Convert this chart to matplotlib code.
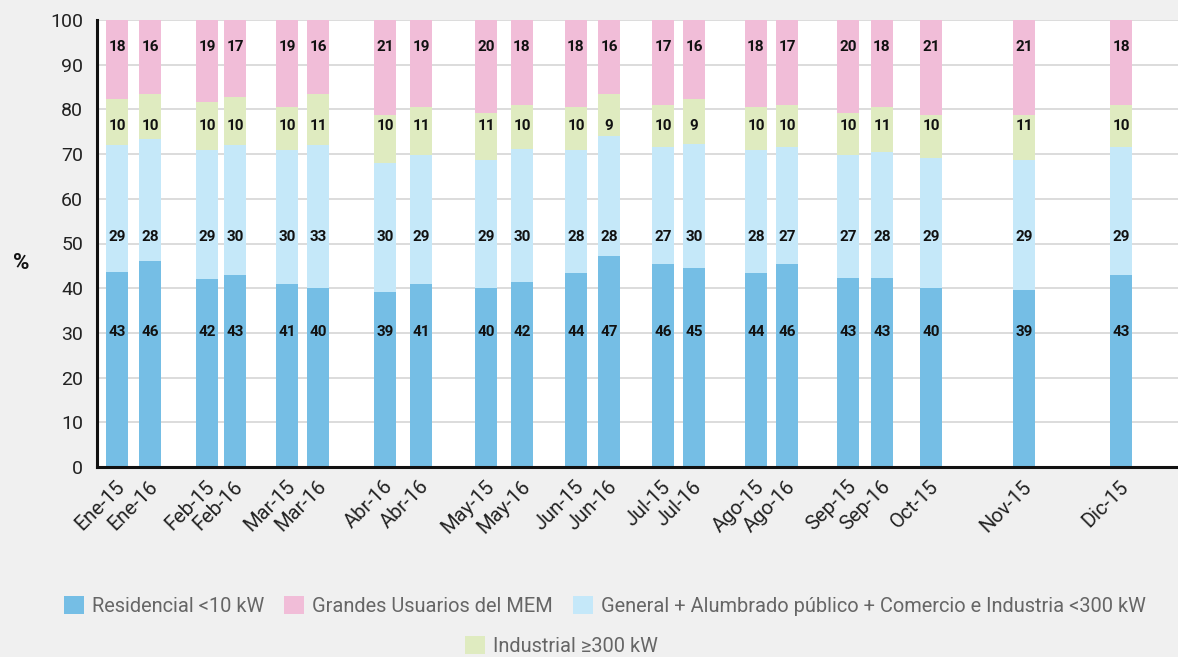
import matplotlib
matplotlib.use("Agg")
import matplotlib.pyplot as plt
from matplotlib.patches import Patch
from matplotlib.transforms import ScaledTranslation

categories = ["Ene-15", "Ene-16", "Feb-15", "Feb-16", "Mar-15", "Mar-16", "Abr-16", "Abr-16",
              "May-15", "May-16", "Jun-15", "Jun-16", "Jul-15", "Jul-16", "Ago-15", "Ago-16",
              "Sep-15", "Sep-16", "Oct-15", "Nov-15", "Dic-15"]

# bar segment heights (as drawn)
residencial = [43.6, 46.0, 42.0, 42.9, 40.9, 40.0, 39.1, 40.9, 40.0, 41.3, 43.4, 47.2, 45.4, 44.5,
               43.4, 45.4, 42.2, 42.2, 40.0, 39.6, 42.9]
general = [28.4, 27.4, 28.9, 29.1, 30.0, 32.0, 28.9, 28.9, 28.7, 29.8, 27.6, 26.9, 26.2, 27.8,
           27.6, 26.2, 27.6, 28.3, 29.2, 29.1, 28.7]
industrial = [10.3, 10.0, 10.7, 10.8, 9.6, 11.4, 10.7, 10.7, 10.5, 9.9, 9.5, 9.3, 9.4, 10.0,
              9.5, 9.4, 9.4, 10.0, 9.5, 10.0, 9.4]
grandes = [17.7, 16.6, 18.4, 17.2, 19.5, 16.6, 21.3, 19.5, 20.8, 19.0, 19.5, 16.6, 19.0, 17.7,
           19.5, 19.0, 20.8, 19.5, 21.3, 21.3, 19.0]

# printed labels
lbl_residencial = [43, 46, 42, 43, 41, 40, 39, 41, 40, 42, 44, 47, 46, 45, 44, 46, 43, 43, 40, 39, 43]
lbl_general = [29, 28, 29, 30, 30, 33, 30, 29, 29, 30, 28, 28, 27, 30, 28, 27, 27, 28, 29, 29, 29]
lbl_industrial = [10, 10, 10, 10, 10, 11, 10, 11, 11, 10, 10, 9, 10, 9, 10, 10, 10, 11, 10, 11, 10]
lbl_grandes = [18, 16, 19, 17, 19, 16, 21, 19, 20, 18, 18, 16, 17, 16, 18, 17, 20, 18, 21, 21, 18]

series_names = ["Residencial <10 kW", "Grandes Usuarios del MEM",
                "General + Alumbrado público + Comercio e Industria <300 kW",
                "Industrial \u2265300 kW"]

yticks = list(range(0, 101, 10))

# layout: bar centre positions along the axis (irregular spacing as in the original)
x_pos = [117, 150, 207, 235, 287, 318, 385, 421, 486, 522, 576, 609, 663, 694, 756, 787,
         848, 882, 931, 1024, 1121]

c_res = "#75BEE5"
c_gen = "#C5E8F9"
c_ind = "#DFEBC0"
c_gra = "#F1BDD8"

plt.rcParams["font.family"] = ["Roboto", "DejaVu Sans"]

fig = plt.figure(figsize=(11.78, 6.57), dpi=100, facecolor="#F0F0F0")
ax = fig.add_axes([97 / 1178, 1 - 467 / 657, 1 - 97 / 1178, (467 - 20) / 657])
ax.set_facecolor("white")

w = 22
b1 = residencial
b2 = [a + b for a, b in zip(residencial, general)]
b3 = [a + b for a, b in zip(b2, industrial)]
ax.bar(x_pos, residencial, width=w, color=c_res, zorder=2)
ax.bar(x_pos, general, width=w, bottom=b1, color=c_gen, zorder=2)
ax.bar(x_pos, industrial, width=w, bottom=b2, color=c_ind, zorder=2)
ax.bar(x_pos, grandes, width=w, bottom=b3, color=c_gra, zorder=2)

for i, x in enumerate(x_pos):
    for yv, lab in ((30.2, lbl_residencial[i]), (51.4, lbl_general[i]),
                    (76.3, lbl_industrial[i]), (94.0, lbl_grandes[i])):
        ax.text(x, yv, str(lab), ha="center", va="center", fontsize=11,
                fontweight="bold", color="#111111", zorder=3)

ax.set_xlim(97, 1178)
ax.set_ylim(0, 100)
ax.set_yticks(yticks)
ax.set_yticklabels([str(t) for t in yticks], fontsize=14, color="#222222")
ax.tick_params(axis="y", length=0, pad=10)
ax.grid(axis="y", color="#D9D9D9", linewidth=1.3, zorder=0)
ax.set_axisbelow(True)

ax.set_xticks(x_pos)
ax.set_xticklabels(categories, rotation=45, ha="right", va="center",
                   rotation_mode="anchor", fontsize=14.5, color="#222222")
ax.tick_params(axis="x", length=0, pad=12)
off = ScaledTranslation(5 / 100, 0, fig.dpi_scale_trans)
for t in ax.get_xticklabels():
    t.set_transform(t.get_transform() + off)

for s in ("top", "right"):
    ax.spines[s].set_visible(False)
for s in ("left", "bottom"):
    ax.spines[s].set_linewidth(2.2)
    ax.spines[s].set_color("#111111")

fig.text(21 / 1178, 1 - 263 / 657, "%", fontsize=16, fontweight="bold",
         ha="center", va="center", color="#111111")

h = [Patch(facecolor=c, edgecolor="none") for c in (c_res, c_gra, c_gen, c_ind)]
leg1 = fig.legend(h[:3], series_names[:3], loc="center", bbox_to_anchor=(605 / 1178, 1 - 606 / 657),
                  ncol=3, frameon=False, fontsize=14.4, handlelength=1.0, handleheight=1.0,
                  handletextpad=0.4, columnspacing=1.0, labelcolor="#666666")
leg2 = fig.legend(h[3:], series_names[3:], loc="center", bbox_to_anchor=(561 / 1178, 1 - 646 / 657),
                  ncol=1, frameon=False, fontsize=14.4, handlelength=1.0, handleheight=1.0,
                  handletextpad=0.4, labelcolor="#666666")

fig.savefig("out.png", dpi=100, facecolor=fig.get_facecolor())
